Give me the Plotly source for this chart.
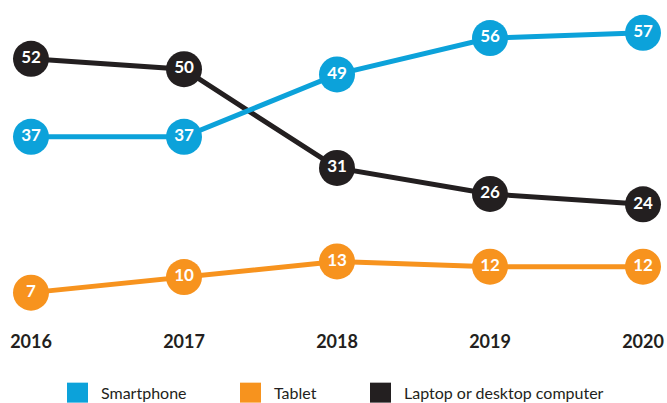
import plotly.graph_objects as go

years = [2016, 2017, 2018, 2019, 2020]
year_labels = ["2016", "2017", "2018", "2019", "2020"]
series_names = ["Smartphone", "Tablet", "Laptop or desktop computer"]
smartphone = [37, 37, 49, 56, 57]
tablet = [7, 10, 13, 12, 12]
laptop = [52, 50, 31, 26, 24]

colors = {"Smartphone": "#0CA2DA", "Tablet": "#F7931E", "Laptop or desktop computer": "#231F20"}

W, H = 667, 403
PLOT_BOTTOM = 329.3  # pixel of plot-area bottom

def py(p):  # pixel y -> paper y
    return (PLOT_BOTTOM - p) / PLOT_BOTTOM

def px(p):
    return p / W

fig = go.Figure()
data = {"Smartphone": smartphone, "Tablet": tablet, "Laptop or desktop computer": laptop}
for name in ["Laptop or desktop computer", "Smartphone", "Tablet"]:
    vals = data[name]
    fig.add_trace(go.Scatter(
        x=years, y=vals, name=name, mode="lines+markers+text",
        line=dict(color=colors[name], width=5),
        marker=dict(color=colors[name], size=36, line=dict(width=0)),
        text=[str(v) for v in vals], textposition="middle center",
        textfont=dict(family="Lato", size=17, color="white", weight="bold"),
        cliponaxis=False, showlegend=False, hoverinfo="x+y+name",
    ))

# legend drawn as squares + labels
leg_x = [67, 240, 370]
shapes, annotations = [], []
for name, x0 in zip(series_names, leg_x):
    shapes.append(dict(type="rect", xref="paper", yref="paper",
                       x0=px(x0), x1=px(x0 + 21), y0=py(403), y1=py(383),
                       fillcolor=colors[name], line=dict(width=0)))
    annotations.append(dict(xref="paper", yref="paper", x=px(x0 + 32), y=py(393),
                            xanchor="left", yanchor="middle", showarrow=False,
                            text=name, font=dict(family="Lato", size=16, color="#231F20")))

fig.update_layout(
    width=W, height=H,
    margin=dict(l=0, r=0, t=0, b=H - PLOT_BOTTOM, pad=0),
    paper_bgcolor="white", plot_bgcolor="white",
    xaxis=dict(range=[2016 - 31 / 153, 2020 + 24 / 153], tickvals=years, ticktext=year_labels,
               showgrid=False, zeroline=False, showline=False, ticks="",
               tickfont=dict(family="Lato", size=18, color="#231F20", weight="bold")),
    yaxis=dict(range=[0, PLOT_BOTTOM / 5.2], visible=False, showgrid=False, zeroline=False),
    shapes=shapes, annotations=annotations,
    font=dict(family="Lato"),
)

fig.write_html("out.html", config={"displayModeBar": False},
               post_script="document.body.style.margin='0';document.body.style.overflow='hidden';")
